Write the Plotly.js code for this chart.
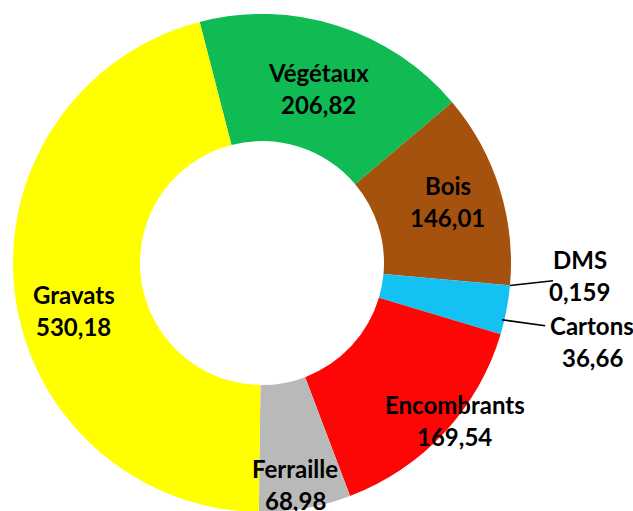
<!DOCTYPE html>
<html>
<head>
<meta charset="utf-8">
<script src="https://cdn.plot.ly/plotly-3.0.1.min.js"></script>
<style>
html, body { margin: 0; padding: 0; background: #ffffff; overflow: hidden; width: 633px; height: 511px; }
#chart { width: 633px; height: 530px; }
</style>
</head>
<body>
<div id="chart"></div>
<script>
// ---- data ----
const categories = ['Végétaux', 'Bois', 'DMS', 'Cartons', 'Encombrants', 'Ferraille', 'Gravats'];
const tonnages = [206.82, 146.01, 0.159, 36.66, 169.54, 68.98, 530.18];
const sliceColors = ['#0FBB52', '#A5520F', '#1B3FA0', '#13C2F3', '#FF0606', '#B9B9B9', '#FFFF00'];

// ---- label placement styles: [radius factor, angle shift in degrees] ----
const labelR = [0.735, 0.787, 1.278, 1.362, 1.0, 0.90, 0.78];
const labelDA = [0.2, -0.9, -3.0, 2.4, -3.6, 1.5, -7.4];
// leader lines for outside labels: [startR, startDA, endR, endDA] (null = none)
const leaders = [null, null, [1.0, 0, 1.171, -1.7], [0.99, 2.4, 1.165, 1.6], null, null, null];

// ---- geometry ----
const W = 633, H = 530;
const CX = 262, CY = 263, R = 249;
const ROT = -14.5;
const HOLE = 0.49;

function fmt(v) { return String(v).replace('.', ','); }
function toPaper(theta, rf) {
  const a = theta * Math.PI / 180;
  const px = CX + rf * R * Math.sin(a);
  const py = CY - rf * R * Math.cos(a);
  return [px / W, 1 - py / H];
}

const total = tonnages.reduce((s, v) => s + v, 0);
let cum = ROT;
const mids = tonnages.map(v => {
  const span = v / total * 360;
  const m = cum + span / 2;
  cum += span;
  return m;
});

const annotations = [];
const shapes = [];
const font = { family: 'Lato, "Open Sans", sans-serif', size: 24, color: '#000000', weight: 700 };
categories.forEach((name, i) => {
  const [x, y] = toPaper(mids[i] + labelDA[i], labelR[i]);
  annotations.push({ xref: 'paper', yref: 'paper', x: x, y: y, text: '<b>' + name + '</b>', showarrow: false,
    xanchor: 'center', yanchor: 'middle', yshift: 16, font: font });
  annotations.push({ xref: 'paper', yref: 'paper', x: x, y: y, text: '<b>' + fmt(tonnages[i]) + '</b>', showarrow: false,
    xanchor: 'center', yanchor: 'middle', yshift: -16, font: font });
  const L = leaders[i];
  if (L) {
    const [x0, y0] = toPaper(mids[i] + L[1], L[0]);
    const [x1, y1] = toPaper(mids[i] + L[3], L[2]);
    shapes.push({ type: 'line', xref: 'paper', yref: 'paper', x0: x0, y0: y0, x1: x1, y1: y1,
      line: { color: '#000000', width: 1.6 } });
  }
});

const trace = {
  type: 'pie',
  labels: categories,
  values: tonnages,
  hole: HOLE,
  sort: false,
  direction: 'clockwise',
  rotation: ROT,
  marker: { colors: sliceColors, line: { width: 0 } },
  textinfo: 'none',
  hoverinfo: 'none',
  showlegend: false,
  domain: { x: [(CX - R) / W, (CX + R) / W], y: [1 - (CY + R) / H, 1 - (CY - R) / H] }
};

const layout = {
  width: W, height: H,
  margin: { l: 0, r: 0, t: 0, b: 0 },
  paper_bgcolor: '#ffffff',
  showlegend: false,
  annotations: annotations,
  shapes: shapes
};

Plotly.newPlot('chart', [trace], layout, { displayModeBar: false, staticPlot: true });
</script>
</body>
</html>
